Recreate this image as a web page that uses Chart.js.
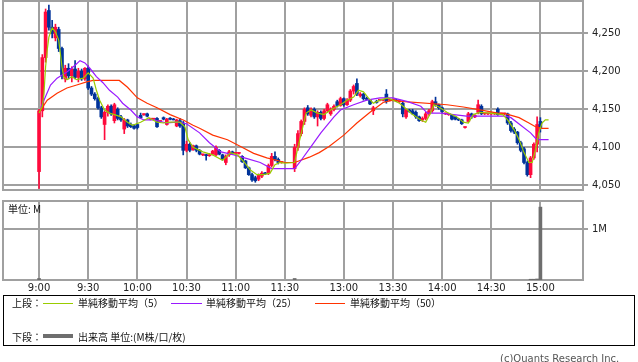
<!DOCTYPE html>
<html>
<head>
<meta charset="utf-8">
<script src="https://cdn.jsdelivr.net/npm/chart.js@4.4.1/dist/chart.umd.min.js"></script>
<style>
body { margin: 0; width: 638px; height: 362px; position: relative; background: #fff; overflow: hidden; font-family: "DejaVu Sans", sans-serif; }
canvas { position: absolute; left: 0; }
#price { top: 0; }
#vol { top: 195px; }
.t { position: absolute; font-size: 10px; line-height: 10px; color: #111; white-space: nowrap; }
.jp { font-family: "Noto Sans CJK JP", "DejaVu Sans", sans-serif; }
#legend { position: absolute; left: 3px; top: 295px; width: 632px; height: 51px; border: 1px solid #000; box-sizing: border-box; }
.sw { position: absolute; height: 1px; }
</style>
</head>
<body>
<canvas id="price" width="638" height="191"></canvas>
<canvas id="vol" width="638" height="105"></canvas>
<div class="t jp" style="left:8px;top:204px">単位: M</div>
<div id="legend"></div>
<div class="t jp" style="left:12px;top:298px">上段：</div>
<div class="sw" style="left:43px;top:303px;width:30px;background:#99cc00"></div>
<div class="t jp" style="left:78px;top:298px">単純移動平均（5）</div>
<div class="sw" style="left:171px;top:303px;width:31px;background:#9a1aff"></div>
<div class="t jp" style="left:206px;top:298px">単純移動平均（25）</div>
<div class="sw" style="left:315px;top:303px;width:30px;background:#ff3300"></div>
<div class="t jp" style="left:350px;top:298px">単純移動平均（50）</div>
<div class="t jp" style="left:12px;top:332px">下段：</div>
<div class="sw" style="left:43px;top:334px;width:30px;height:4px;background:#6e6e6e"></div>
<div class="t jp" style="left:78px;top:332px">出来高 単位:(M株/口/枚)</div>
<div class="t" style="left:500px;top:354px;color:#555">(c)Quants Research Inc.</div>
<script>
// 1-min chart read as 2-min candles; morning 9:00-11:28, afternoon 12:30-15:00
const candleTimes = [
  '9:00','9:02','9:04','9:06','9:08','9:10','9:12','9:14','9:16','9:18',
  '9:20','9:22','9:24','9:26','9:28','9:30','9:32','9:34','9:36','9:38',
  '9:40','9:42','9:44','9:46','9:48','9:50','9:52','9:54','9:56','9:58',
  '10:00','10:02','10:04','10:06','10:08','10:10','10:12','10:14','10:16','10:18',
  '10:20','10:22','10:24','10:26','10:28','10:30','10:32','10:34','10:36','10:38',
  '10:40','10:42','10:44','10:46','10:48','10:50','10:52','10:54','10:56','10:58',
  '11:00','11:02','11:04','11:06','11:08','11:10','11:12','11:14','11:16','11:18',
  '11:20','11:22','11:24','11:26','11:28',
  '12:30','12:32','12:34','12:36','12:38','12:40','12:42','12:44','12:46','12:48',
  '12:50','12:52','12:54','12:56','12:58','13:00','13:02','13:04','13:06','13:08',
  '13:10','13:12','13:14','13:16','13:18','13:20','13:22','13:24','13:26','13:28',
  '13:30','13:32','13:34','13:36','13:38','13:40','13:42','13:44','13:46','13:48',
  '13:50','13:52','13:54','13:56','13:58','14:00','14:02','14:04','14:06','14:08',
  '14:10','14:12','14:14','14:16','14:18','14:20','14:22','14:24','14:26','14:28',
  '14:30','14:32','14:34','14:36','14:38','14:40','14:42','14:44','14:46','14:48',
  '14:50','14:52','14:54','14:56','14:58','15:00'
];
const openP = [
  4068,4148,4218,4280,4258,4244,4255,4230,4190,4204,
  4194,4203,4192,4200,4190,4204,4178,4170,4164,4152,
  4130,4146,4154,4135,4150,4140,4124,4136,4130,4128,
  4130,4142,4143,4144,4137,4137,4138,4134,4139,4130,
  4138,4137,4128,4135,4132,4096,4104,4097,4102,4096,
  4090,4090,4089,4091,4090,4096,4090,4080,4090,4094,
  4092,4092,4088,4082,4073,4064,4060,4058,4062,4066,
  4066,4076,4088,4084,4080,
  4072,4100,4118,4134,4152,4142,4150,4140,4146,4138,
  4148,4144,4150,4160,4155,4164,4156,4162,4174,4184,
  4168,4170,4164,4162,4148,4160,4162,4162,4170,4162,
  4162,4162,4160,4158,4140,4149,4148,4146,4140,4136,
  4138,4144,4148,4160,4156,4152,4144,4143,4142,4140,
  4137,4136,4126,4134,4144,4140,4146,4154,4144,4144,
  4144,4144,4150,4144,4144,4144,4132,4124,4120,4106,
  4098,4080,4064,4086,4104,4134
];
const highP = [
  4150,4222,4282,4287,4267,4262,4258,4232,4208,4210,
  4206,4214,4204,4203,4205,4207,4180,4172,4166,4154,
  4148,4156,4156,4158,4152,4142,4138,4137,4132,4130,
  4131,4145,4144,4145,4138,4138,4139,4135,4140,4138,
  4139,4138,4137,4138,4134,4108,4106,4103,4103,4097,
  4091,4091,4092,4096,4102,4097,4091,4090,4096,4095,
  4093,4093,4089,4083,4074,4066,4062,4065,4068,4067,
  4078,4092,4094,4086,4081,
  4104,4122,4136,4152,4155,4152,4152,4148,4148,4150,
  4158,4152,4156,4162,4166,4165,4164,4176,4182,4190,
  4172,4171,4166,4163,4154,4162,4163,4163,4176,4163,
  4163,4163,4161,4160,4150,4150,4150,4148,4141,4140,
  4146,4150,4162,4166,4157,4153,4145,4144,4143,4141,
  4138,4137,4127,4146,4145,4143,4162,4156,4145,4145,
  4145,4146,4152,4145,4145,4145,4134,4126,4121,4108,
  4100,4082,4088,4106,4140,4139
];
const lowP = [
  4046,4140,4212,4254,4244,4240,4226,4190,4186,4190,
  4186,4190,4186,4188,4188,4176,4168,4162,4150,4138,
  4110,4141,4142,4132,4136,4134,4118,4126,4126,4124,
  4124,4138,4142,4140,4136,4136,4126,4133,4136,4129,
  4136,4136,4127,4126,4090,4094,4094,4096,4094,4090,
  4089,4083,4088,4090,4089,4090,4083,4077,4088,4091,
  4091,4091,4080,4072,4063,4055,4054,4056,4060,4064,
  4064,4074,4082,4078,4079,
  4068,4096,4115,4130,4142,4140,4138,4128,4136,4136,
  4146,4142,4148,4153,4154,4154,4155,4160,4170,4168,
  4166,4162,4162,4156,4143,4158,4161,4161,4158,4161,
  4161,4160,4159,4140,4138,4146,4143,4138,4134,4134,
  4136,4142,4146,4154,4150,4146,4143,4142,4136,4136,
  4135,4130,4125,4133,4138,4139,4144,4143,4143,4143,
  4143,4143,4142,4143,4143,4130,4120,4118,4104,4094,
  4078,4062,4060,4084,4094,4120
];
const closeP = [
  4148,4218,4278,4258,4250,4258,4230,4195,4204,4194,
  4203,4192,4200,4190,4204,4178,4170,4164,4152,4140,
  4146,4154,4144,4156,4138,4136,4136,4128,4127,4125,
  4126,4139,4143,4141,4137,4137,4127,4134,4137,4137,
  4137,4136,4136,4128,4096,4104,4096,4102,4096,4091,
  4090,4089,4090,4095,4100,4091,4084,4088,4094,4092,
  4092,4092,4081,4073,4064,4057,4056,4063,4066,4065,
  4076,4088,4084,4080,4080,
  4100,4118,4134,4150,4144,4150,4140,4146,4138,4148,
  4156,4150,4154,4155,4164,4156,4162,4174,4180,4170,
  4170,4164,4163,4157,4152,4159,4162,4162,4160,4162,
  4162,4161,4160,4144,4149,4147,4144,4140,4135,4138,
  4144,4148,4160,4156,4152,4147,4144,4143,4137,4137,
  4136,4131,4126,4144,4140,4142,4156,4144,4144,4144,
  4144,4145,4143,4144,4144,4132,4122,4120,4106,4096,
  4080,4064,4086,4104,4130,4126
];

const ma5Times = ['9:00','9:02','9:03','9:04','9:05','9:06','9:08','9:10','9:12','9:13','9:14','9:15','9:17','9:20','9:23','9:27','9:30','9:33','9:35','9:37','9:40','9:43','9:46','9:50','9:54','9:57','10:02','10:07','10:12','10:16','10:20','10:26','10:29','10:31','10:34','10:40','10:46','10:52','10:57','11:01','11:05','11:09','11:13','11:17','11:21','11:24','11:27','11:30','12:30','12:32','12:35','12:37','12:40','12:44','12:48','12:52','12:58','13:02','13:06','13:09','13:12','13:15','13:18','13:22','13:27','13:30','13:34','13:39','13:42','13:47','13:50','13:53','13:55','13:58','14:03','14:09','14:13','14:16','14:19','14:23','14:29','14:37','14:40','14:44','14:47','14:50','14:53','14:55','14:57','14:59','15:01','15:03','15:05'];
const ma5Values = [4145,4154,4171,4206,4228,4245,4257,4252,4241,4224,4206,4193,4189,4193,4189,4191,4198,4191,4175,4162,4149,4145,4143,4140,4133,4129,4133,4139,4133,4132,4133,4133,4127,4110,4100,4094,4090,4083,4093,4090,4081,4070,4064,4064,4066,4077,4080,4079,4080,4100,4127,4145,4149,4145,4143,4149,4156,4162,4166,4175,4173,4165,4158,4162,4165,4162,4158,4149,4143,4136,4133,4145,4156,4153,4146,4140,4133,4132,4143,4146,4145,4143,4136,4123,4110,4093,4080,4080,4097,4119,4132,4136,4136];

const ma25Times = ['9:01','9:03','9:07','9:11','9:17','9:22','9:25','9:28','9:31','9:35','9:39','9:43','9:48','9:51','9:56','10:00','10:04','10:10','10:18','10:24','10:30','10:38','10:44','10:51','10:59','11:07','11:15','11:22','11:30','12:30','12:33','12:40','12:46','12:54','12:58','13:06','13:14','13:22','13:30','13:39','13:47','13:51','13:59','14:07','14:15','14:39','14:42','14:48','14:54','14:57','14:59','15:05'];
const ma25Values = [4152,4162,4182,4191,4199,4208,4214,4211,4204,4193,4185,4175,4166,4158,4149,4140,4136,4136,4132,4133,4131,4119,4106,4094,4090,4085,4080,4072,4072,4072,4080,4101,4119,4140,4149,4156,4162,4165,4165,4160,4154,4145,4145,4143,4141,4141,4139,4129,4119,4112,4110,4110];

const ma50Times = ['9:01','9:05','9:11','9:17','9:23','9:29','9:33','9:49','9:54','10:00','10:06','10:12','10:20','10:28','10:34','10:38','10:46','10:55','11:03','11:11','11:19','11:25','11:30','12:30','12:39','12:45','12:51','13:00','13:08','13:16','13:24','13:30','13:37','14:03','14:13','14:24','14:34','14:39','14:47','14:53','14:57','15:01','15:05'];
const ma50Values = [4149,4162,4171,4178,4182,4186,4188,4188,4179,4165,4158,4152,4143,4136,4129,4125,4116,4110,4101,4092,4086,4083,4080,4080,4087,4093,4101,4116,4132,4146,4159,4162,4160,4156,4153,4149,4145,4144,4139,4132,4127,4125,4125];

// volume in millions
const volTimes = ['9:00','12:30','14:54','14:56','14:58','15:00'];
const volValues = [0.03,0.03,0.015,0.015,0.02,1.43];

const xTickLabels = ['9:00','9:30','10:00','10:30','11:00','11:30','13:00','13:30','14:00','14:30','15:00'];
const priceTicks = [4050,4100,4150,4200,4250];
const volTicks = [1];

const GRID = '#a0a0a0';
const UP = '#ff0a3c';
const DOWN = '#00339a';
const FONT = { family: 'DejaVu Sans', size: 10 };

// trading-minute axis: lunch break (11:30-12:30) squeezed to 6 minutes
function toAxis(t) {
  const [h, m] = t.split(':').map(Number);
  const mins = h * 60 + m - 540;
  return mins >= 210 ? mins - 54 : mins;
}
const pts = (times, vals) => times.map((t, i) => ({ x: toAxis(t), y: vals[i] }));
const candleColor = ctx => closeP[ctx.dataIndex] >= openP[ctx.dataIndex] ? UP : DOWN;

const frame = {
  id: 'frame',
  beforeDatasetsDraw(chart) {
    const { ctx, chartArea: a } = chart;
    ctx.save();
    ctx.strokeStyle = GRID;
    ctx.lineWidth = 2;
    ctx.strokeRect(a.left, a.top, a.right - a.left, a.bottom - a.top);
    ctx.restore();
  }
};

const noPad = s => { s.paddingTop = 0; s.paddingBottom = 0; s.paddingLeft = 0; s.paddingRight = 0; };

function xAxis(showLabels) {
  return {
    type: 'linear', min: -22, max: 332, offset: false,
    afterBuildTicks: s => { s.ticks = xTickLabels.map(l => ({ value: toAxis(l) })); },
    afterFit: s => { noPad(s); s.height = showLabels ? 20 : 0; },
    grid: { color: GRID, lineWidth: 2, drawTicks: false, offset: false },
    border: { display: false },
    ticks: {
      display: showLabels, color: '#222', font: FONT, padding: 2,
      maxRotation: 0, autoSkip: false,
      callback: (v, i) => xTickLabels[i],
    },
  };
}

function yAxis(min, max, ticks, fmt) {
  return {
    position: 'right', min, max,
    afterBuildTicks: s => { s.ticks = ticks.map(v => ({ value: v })); },
    afterFit: s => { noPad(s); s.width = 55; },
    grid: { color: GRID, lineWidth: 2, tickLength: 5 },
    border: { display: false },
    ticks: { color: '#222', font: FONT, padding: 4, callback: fmt },
  };
}

const common = {
  responsive: false, animation: false, devicePixelRatio: 1,
  plugins: { legend: { display: false }, tooltip: { enabled: false } },
};

new Chart(document.getElementById('price'), {
  type: 'bar',
  data: {
    datasets: [
      { type: 'line', data: pts(ma5Times, ma5Values), borderColor: '#99cc00', borderWidth: 1.2, pointRadius: 0, order: 0 },
      { type: 'line', data: pts(ma25Times, ma25Values), borderColor: '#9a1aff', borderWidth: 1.2, pointRadius: 0, order: 1 },
      { type: 'line', data: pts(ma50Times, ma50Values), borderColor: '#ff3300', borderWidth: 1.2, pointRadius: 0, order: 2 },
      {
        data: candleTimes.map((t, i) => ({ x: toAxis(t), y: [openP[i], closeP[i]] })),
        backgroundColor: candleColor, barThickness: 3, minBarLength: 1, grouped: false, order: 3,
      },
      {
        data: candleTimes.map((t, i) => ({ x: toAxis(t), y: [lowP[i], highP[i]] })),
        backgroundColor: candleColor, barThickness: 1, grouped: false, order: 4,
      },
    ],
  },
  options: {
    ...common,
    layout: { padding: { left: 3, top: 1, right: 0, bottom: 1 } },
    scales: {
      x: xAxis(false),
      y: yAxis(4043.8, 4292.5, priceTicks, v => v.toLocaleString('en-US')),
    },
  },
  plugins: [frame],
});

new Chart(document.getElementById('vol'), {
  type: 'bar',
  data: {
    datasets: [{
      data: pts(volTimes, volValues),
      backgroundColor: '#6e6e6e', barThickness: 3, grouped: false,
    }],
  },
  options: {
    ...common,
    layout: { padding: { left: 3, top: 6, right: 0, bottom: 0 } },
    scales: {
      x: xAxis(true),
      y: yAxis(0, 1.55, volTicks, v => v + 'M'),
    },
  },
  plugins: [frame],
});
</script>
</body>
</html>
